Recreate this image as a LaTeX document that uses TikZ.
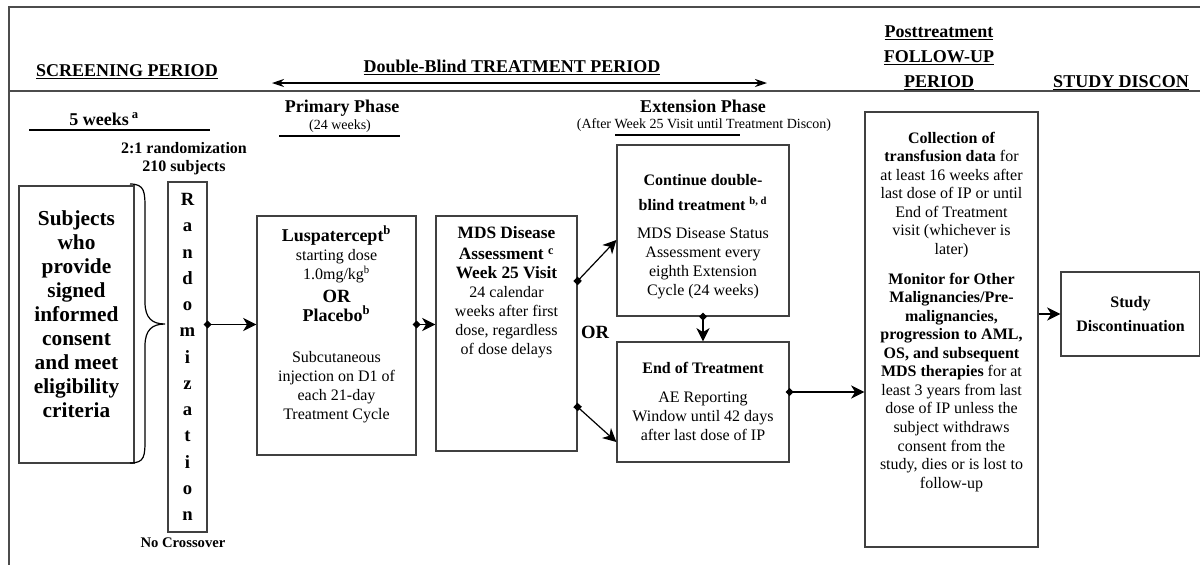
\documentclass[tikz,border=0pt]{standalone}
\usepackage{fontspec}
\setmainfont{Liberation Serif}
\usetikzlibrary{arrows.meta,calc}

\newcommand{\inbox}[4]{\begin{minipage}[c][#2][t]{#1}\centering\rule{0pt}{#3}#4\end{minipage}}
\newcommand{\bt}[2][12]{{\fontsize{#1}{14.25}\selectfont\bfseries #2}}

\tikzset{
  box/.style={draw=black!75, line width=0.9pt, inner xsep=2pt, inner ysep=0pt, font=\fontsize{12}{14.25}\selectfont},
  hdr/.style={font=\fontsize{13.5}{16}\selectfont\bfseries, inner sep=0pt},
  frame/.style={draw=black!70, line width=0.9pt},
  flow/.style={line width=0.9pt, -{Stealth[length=10pt,width=10pt,inset=3pt]}},
  dflow/.style={line width=0.9pt, {Diamond[length=6pt,width=6pt]}-{Stealth[length=10pt,width=10pt,inset=3pt]}, shorten <=-3pt},
  sflow/.style={line width=0.9pt, {Square[length=4.5pt,width=4.5pt]}-{Stealth[length=10pt,width=10pt,inset=3pt]}, shorten <=-2.25pt}
}

\begin{document}
\begin{tikzpicture}[x=0.75pt,y=-0.75pt]
\useasboundingbox (0,0) rectangle (1200,565);
\draw[frame] (1200,7) -- (9,7) -- (9,565);
\draw[frame] (9,91) -- (1200,91);

\node[hdr, anchor=base] (screen) at (127,76) {\underline{SCREENING PERIOD}};
\node[hdr, anchor=base] (dblind) at (512,72) {\underline{Double-Blind TREATMENT PERIOD}};
\foreach \t [count=\i] in {Posttreatment,FOLLOW-UP,PERIOD}{
  \node[hdr, anchor=base] (post\i) at (939,12+25*\i) {\underline{\t}};
}
\node[hdr, anchor=base] (discon) at (1121,87) {\underline{STUDY DISCON}};
\coordinate (tpL) at (272,83);
\coordinate (tpR) at (767,83);
\draw[line width=0.9pt, {Stealth[length=9pt,width=6pt]}-{Stealth[length=9pt,width=6pt]}] (tpL) -- (tpR);

\node[hdr, anchor=base] (weeks) at (104,125) {5 weeks\,\textsuperscript{a}};
\draw[line width=1pt] (29,130) -- (210,130);
\node[align=center, font=\fontsize{12}{13.5}\selectfont\bfseries] (ratio) at (184,159) {2:1 randomization\\210 subjects};
\node[hdr, anchor=base] (prim) at (342,112) {Primary Phase};
\node[anchor=base, font=\fontsize{10.5}{12}\selectfont] (primw) at (340,129) {(24 weeks)};
\draw[line width=1pt] (279,136) -- (400,136);
\node[hdr, anchor=base] (ext) at (703,112) {Extension Phase};
\node[anchor=base, font=\fontsize{10.5}{12}\selectfont] (extw) at (704,128) {(After Week 25 Visit until Treatment Discon)};
\draw[line width=1pt] (615,135) -- (740,135);

\node[box, font=\fontsize{16}{18}\selectfont\bfseries] (subj) at (76.5,324.5) {\inbox{82.25pt}{207.75pt}{29.25pt}{Subjects\\who\\provide\\signed\\informed\\consent\\and meet\\eligibility\\criteria}};
\draw[line width=0.9pt] (130,184) .. controls (145,184) and (145,192) .. (145,210) -- (145,302) .. controls (145,318) and (152,324) .. (165,324) .. controls (152,324) and (145,330) .. (145,346) -- (145,438) .. controls (145,456) and (145,463) .. (130,463);
\node[box, minimum width=29.25pt, minimum height=262.5pt, align=center, font=\fontsize{14}{19.7}\selectfont\bfseries] (rand) at (187.5,357) {R\\a\\n\\d\\o\\m\\i\\z\\a\\t\\i\\o\\n};
\node[anchor=base, font=\fontsize{11}{13}\selectfont\bfseries] (nocross) at (183,547) {No Crossover};

\node[box] (lusp) at (336.5,335.5) {\inbox{115.25pt}{179.25pt}{18.75pt}{\bt[13.5]{Luspatercept\textsuperscript{b}}\\ starting dose\\ 1.0mg/kg\textsuperscript{b}\\[3.4pt] \bt[14]{OR}\\ \bt[13.5]{Placebo\textsuperscript{b}}\\[16.5pt] Subcutaneous\\ injection on D1 of\\ each 21-day\\ Treatment Cycle}};
\node[box] (mds) at (506.5,333.5) {\inbox{101.75pt}{176.25pt}{16.5pt}{\bt[13]{MDS Disease}\\[2.2pt] \bt[13]{Assessment \textsuperscript{c}}\\ \bt[13]{Week 25 Visit}\\ 24 calendar\\ weeks after first\\ dose, regardless\\ of dose delays}};
\node[box] (cont) at (703,230.5) {\inbox{125pt}{128.25pt}{30pt}{\bt{Continue double-}\\[4.5pt] \bt{blind treatment \textsuperscript{b, d}}\\[6.75pt] MDS Disease Status\\ Assessment every\\ eighth Extension\\ Cycle (24 weeks)}};
\node[box] (eot) at (703,402) {\inbox{125pt}{90pt}{23.25pt}{\bt{End of Treatment}\\[7.5pt] AE Reporting\\ Window until 42 days\\ after last dose of IP}};
\node[box, font=\fontsize{12}{13.9}\selectfont] (coll) at (951.5,329.5) {\inbox{125.75pt}{326.25pt}{23.25pt}{\bt{Collection of}\\ \bt{transfusion data} for\\ at least 16 weeks after\\ last dose of IP or until\\ End of Treatment\\ visit (whichever is\\ later)\\[8.6pt] \bt{Monitor for Other}\\ \bt{Malignancies/Pre-}\\ \bt{malignancies,}\\ \bt{progression to AML,}\\ \bt{OS, and subsequent}\\ \bt{MDS therapies} for at\\ least 3 years from last\\ dose of IP unless the\\ subject withdraws\\ consent from the\\ study, dies or is lost to\\ follow-up}};
\node[box, minimum width=104.25pt, minimum height=63pt, align=center, font=\fontsize{12}{18}\selectfont\bfseries] (study) at (1130.5,314) {Study\\Discontinuation};
\node[anchor=base, font=\fontsize{14}{16}\selectfont\bfseries] (or) at (595,338) {OR};

\draw[dflow] (rand.east |- subj.east) -- (lusp.west |- subj.east);
\draw[dflow] (lusp.east |- subj.east) -- (mds.west |- subj.east);
\draw[sflow] ([yshift=39.4pt]mds.east) -- ([yshift=-7.1pt]cont.west);
\draw[sflow] ([yshift=-55.1pt]mds.east) -- ([yshift=-30pt]eot.west);
\draw[dflow] (cont.south) -- (eot.north);
\draw[dflow] ([yshift=7.5pt]eot.east) coordinate (e1) -- (e1 -| coll.west);
\draw[flow] (coll.east |- study.west) -- (study.west);
\end{tikzpicture}
\end{document}
